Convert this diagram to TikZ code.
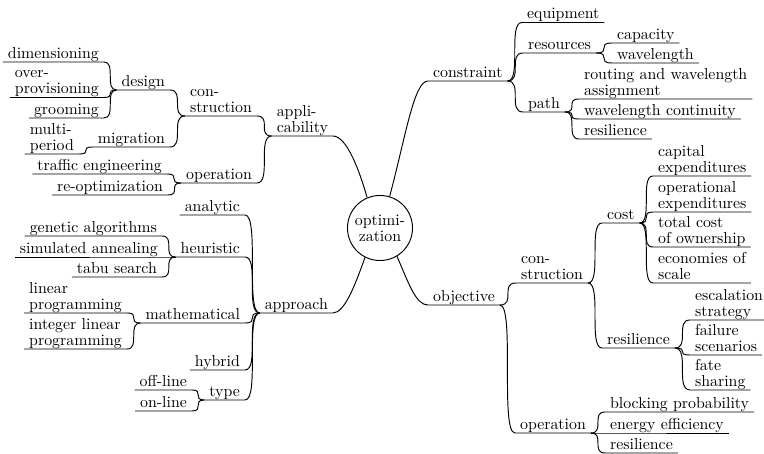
\documentclass[tikz,border=0pt]{standalone}
\usetikzlibrary{calc}
\begin{document}
\begin{tikzpicture}[x=0.63pt, y=-0.63pt,
  every node/.style={font=\fontsize{10pt}{10pt}\selectfont},
  item/.style={inner xsep=3pt, inner ysep=1pt, text depth=1.3pt, align=left},
  rt/.style={item, anchor=south west},
  lt/.style={item, anchor=south east},
  root/.style={draw, circle, line width=0.6pt, minimum size=41pt, inner sep=0pt, align=center},
  branch/.style={line width=0.6pt},
  curvy/.style={to path={let \p1=(\tikztostart), \p2=(\tikztotarget) in
      .. controls (\x2,\y1) and (\x1,\y2) .. (\tikztotarget)}},
]
\useasboundingbox (0,0) rectangle (764,454);

% central topic
\node[root] (c) at (380,228) {optimi-\\zation};

% right half: constraints and objectives
\node[rt] (constraint) at (428,81) {constraint};
\node[rt] (equipment) at (522,22.5) {equipment};
\node[rt] (resources) at (523,53) {resources};
\node[rt] (capacity) at (612,43) {capacity};
\node[rt] (wavelength) at (612,63) {wavelength};
\node[rt] (path) at (523,112) {path};
\node[rt] (rwa) at (579,99) {routing and wavelength\\assignment};
\node[rt] (continuity) at (579,119) {wavelength continuity};
\node[rt] (pathres) at (579,139) {resilience};
\node[rt] (objective) at (428,305) {objective};
\node[rt] (objcon) at (516,283) {con-\\struction};
\node[rt] (cost) at (602,223) {cost};
\node[rt] (capex) at (653,176) {capital\\expenditures};
\node[rt] (opex) at (653,212) {operational\\expenditures};
\node[rt] (tco) at (653,247) {total cost\\of ownership};
\node[rt] (scale) at (653,283) {economies of\\scale};
\node[rt] (objres) at (602,348) {resilience};
\node[rt] (escal) at (690,320) {escalation\\strategy};
\node[rt] (failure) at (690,355) {failure\\scenarios};
\node[rt] (fate) at (690,390) {fate\\sharing};
\node[rt] (objop) at (515,433) {operation};
\node[rt] (blocking) at (605,412) {blocking probability};
\node[rt] (energy) at (605,433) {energy efficiency};
\node[rt] (opres) at (605,453) {resilience};

% left half: applicability and approach
\node[lt] (appl) at (333,136) {appli-\\cability};
\node[lt] (apcon) at (257,116) {con-\\struction};
\node[lt] (design) at (170,90) {design};
\node[lt] (dim) at (104,62) {dimensioning};
\node[lt] (overprov) at (104,97.5) {over-\\provisioning};
\node[lt] (groom) at (104,118) {grooming};
\node[lt] (migration) at (170,147) {migration};
\node[lt] (multi) at (79,154) {multi-\\period};
\node[lt] (apop) at (257,183) {operation};
\node[lt] (traffic) at (167,174) {traffic engineering};
\node[lt] (reopt) at (168,195) {re-optimization};
\node[lt] (approach) at (333,313) {approach};
\node[lt] (analytic) at (245,215) {analytic};
\node[lt] (heuristic) at (245,257) {heuristic};
\node[lt] (genetic) at (162,236) {genetic algorithms};
\node[lt] (annealing) at (163,257) {simulated annealing};
\node[lt] (tabu) at (162,277) {tabu search};
\node[lt] (math) at (245,323) {mathematical};
\node[lt] (lp) at (127,313) {linear\\programming};
\node[lt] (ilp) at (127,349) {integer linear\\programming};
\node[lt] (hybrid) at (245,370) {hybrid};
\node[lt] (type) at (245,400) {type};
\node[lt] (offline) at (192,390) {off-line};
\node[lt] (online) at (192,411) {on-line};

% main branches leaving the central circle
\draw[branch] (c.73) .. controls +(16,-60) and +(-14,0) .. (constraint.south west) -- (constraint.south east);
\draw[branch] (c.-59) .. controls +(12,28) and +(-12,0) .. (objective.south west) -- (objective.south east);
\draw[branch] (c.113) .. controls +(-7,-25) and +(14,0) .. (appl.south east) -- (appl.south west);
\draw[branch] (c.-117) .. controls +(-9,25) and +(12,0) .. (approach.south east) -- (approach.south west);

% sub-branches growing to the right
\foreach \u/\v in {constraint/equipment, constraint/resources, constraint/path,
    resources/capacity, resources/wavelength,
    path/rwa, path/continuity, path/pathres,
    objective/objcon, objective/objop,
    objcon/cost, objcon/objres,
    cost/capex, cost/opex, cost/tco, cost/scale,
    objres/escal, objres/failure, objres/fate,
    objop/blocking, objop/energy, objop/opres}
  \draw[branch] (\u.south east) to[curvy] (\v.south west) -- (\v.south east);

% sub-branches growing to the left
\foreach \u/\v in {appl/apcon, appl/apop,
    apcon/design, apcon/migration,
    design/dim, design/overprov, design/groom,
    migration/multi,
    apop/traffic, apop/reopt,
    approach/analytic, approach/heuristic, approach/math, approach/hybrid, approach/type,
    heuristic/genetic, heuristic/annealing, heuristic/tabu,
    math/lp, math/ilp,
    type/offline, type/online}
  \draw[branch] (\u.south west) to[curvy] (\v.south east) -- (\v.south west);
\end{tikzpicture}
\end{document}
